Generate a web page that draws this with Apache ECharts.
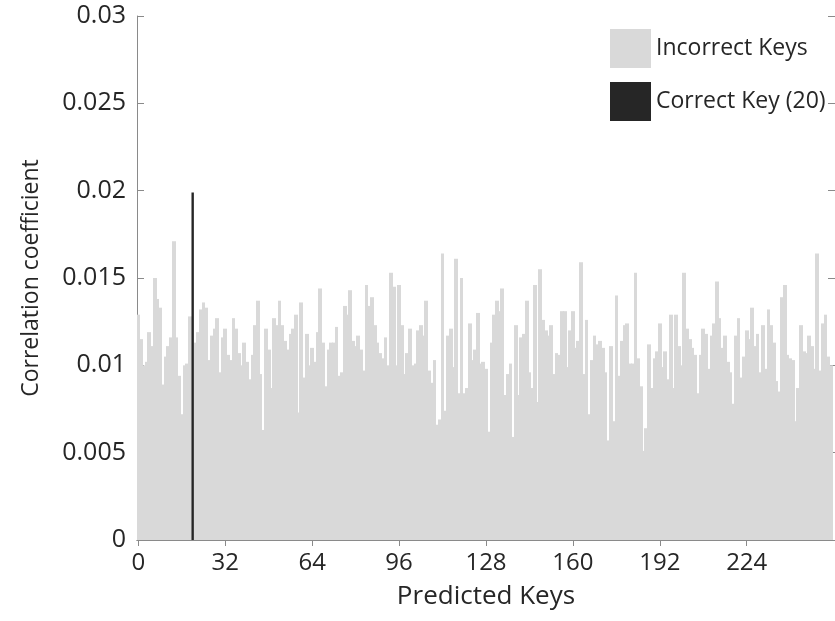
<!DOCTYPE html>
<html>
<head>
<meta charset="utf-8">
<title>Correlation coefficient per predicted key</title>
<script src="https://cdn.jsdelivr.net/npm/echarts@6/dist/echarts.min.js"></script>
<style>
  html, body { margin: 0; padding: 0; background: #ffffff; }
  #chart { width: 835px; height: 621px; }
</style>
</head>
<body>
<div id="chart"></div>
<script>
// Key hypotheses 0..255 plus one empty slot so the axis runs to 256.5
const keyLabels = [];
for (let k = 0; k <= 256; k++) keyLabels.push(String(k));

// Correlation coefficient of each wrong key guess (index = key value);
// key 20 is the correct one and is drawn by its own series.
const incorrectKeyCorr = [
  0.0129, 0.0115, 0.0100, 0.0102, 0.0119, 0.0111, 0.0150, 0.0138, 0.0133, 0.0089,
  0.0105, 0.0111, 0.0116, 0.0171, 0.0116, 0.0094, 0.0072, 0.0100, 0.0101, 0.0128,
  null,   0.0113, 0.0119, 0.0132, 0.0136, 0.0133, 0.0103, 0.0117, 0.0121, 0.0127,
  0.0096, 0.0116, 0.0121, 0.0106, 0.0103, 0.0127, 0.0121, 0.0107, 0.0100, 0.0113,
  0.0102, 0.0092, 0.0106, 0.0123, 0.0137, 0.0095, 0.0063, 0.0121, 0.0109, 0.0087,
  0.0127, 0.0123, 0.0137, 0.0123, 0.0114, 0.0109, 0.0118, 0.0121, 0.0129, 0.0073,
  0.0136, 0.0093, 0.0118, 0.0100, 0.0110, 0.0102, 0.0119, 0.0144, 0.0113, 0.0088,
  0.0109, 0.0113, 0.0113, 0.0122, 0.0094, 0.0096, 0.0134, 0.0129, 0.0143, 0.0114,
  0.0111, 0.0117, 0.0109, 0.0097, 0.0146, 0.0134, 0.0139, 0.0123, 0.0113, 0.0107,
  0.0104, 0.0116, 0.0100, 0.0153, 0.0145, 0.0100, 0.0146, 0.0123, 0.0095, 0.0107,
  0.0121, 0.0100, 0.0101, 0.0120, 0.0123, 0.0117, 0.0137, 0.0097, 0.0090, 0.0103,
  0.0066, 0.0069, 0.0164, 0.0074, 0.0117, 0.0121, 0.0099, 0.0161, 0.0084, 0.0150,
  0.0084, 0.0087, 0.0124, 0.0103, 0.0109, 0.0130, 0.0101, 0.0102, 0.0098, 0.0062,
  0.0113, 0.0129, 0.0137, 0.0131, 0.0144, 0.0083, 0.0095, 0.0101, 0.0059, 0.0123,
  0.0083, 0.0116, 0.0118, 0.0137, 0.0096, 0.0087, 0.0146, 0.0079, 0.0155, 0.0126,
  0.0120, 0.0117, 0.0123, 0.0095, 0.0107, 0.0106, 0.0131, 0.0131, 0.0099, 0.0120,
  0.0131, 0.0110, 0.0114, 0.0159, 0.0095, 0.0126, 0.0072, 0.0103, 0.0117, 0.0112,
  0.0114, 0.0110, 0.0096, 0.0057, 0.0111, 0.0068, 0.0140, 0.0094, 0.0114, 0.0123,
  0.0124, 0.0101, 0.0101, 0.0153, 0.0104, 0.0088, 0.0051, 0.0064, 0.0112, 0.0087,
  0.0104, 0.0108, 0.0124, 0.0099, 0.0108, 0.0092, 0.0129, 0.0087, 0.0129, 0.0111,
  0.0100, 0.0153, 0.0121, 0.0115, 0.0110, 0.0106, 0.0084, 0.0106, 0.0121, 0.0118,
  0.0098, 0.0117, 0.0124, 0.0148, 0.0127, 0.0110, 0.0117, 0.0102, 0.0096, 0.0078,
  0.0117, 0.0127, 0.0093, 0.0105, 0.0120, 0.0115, 0.0133, 0.0111, 0.0118, 0.0096,
  0.0123, 0.0098, 0.0132, 0.0123, 0.0113, 0.0091, 0.0085, 0.0139, 0.0146, 0.0106,
  0.0104, 0.0103, 0.0068, 0.0087, 0.0123, 0.0108, 0.0107, 0.0117, 0.0111, 0.0098,
  0.0164, 0.0097, 0.0124, 0.0129, 0.0105, 0.0100
];

// The correct key and its correlation peak
const correctKey = 20;
const correctKeyCorr = 0.0199;

// Labelled key ticks
const xTickKeys = [0, 32, 64, 96, 128, 160, 192, 224];

const seriesNames = ['Incorrect Keys', 'Correct Key (20)'];

const AXIS_COLOR = '#8a8a8a';
const TEXT_COLOR = '#262626';
const BAR_GREY = '#d9d9d9';
const KEY_BLACK = '#262626';
const FONT = '"Open Sans", "Noto Sans", sans-serif';

const incorrectData = incorrectKeyCorr.map((v, i) => [i, v]);
const correctData = keyLabels.map((_, i) => (i === correctKey ? correctKeyCorr : null));
const tickAt = (idx) => xTickKeys.indexOf(idx) !== -1;

// Touching bars: each one spans its full key band, edges snapped to whole
// pixels so neighbouring bars meet without hairline gaps.
function renderTouchingBar(params, api) {
  const v = api.value(1);
  if (v == null || isNaN(v)) return null;
  const k = api.value(0);
  const top = api.coord([k, v]);
  const base = api.coord([k, 0]);
  const band = api.size([1, 0])[0];
  const x0 = Math.floor(top[0] - band / 2);
  const x1 = Math.ceil(top[0] + band / 2);
  return {
    type: 'rect',
    shape: { x: x0, y: top[1], width: x1 - x0, height: base[1] - top[1] },
    style: { fill: BAR_GREY }
  };
}

const chart = echarts.init(document.getElementById('chart'), null, { renderer: 'canvas' });

chart.setOption({
  animation: false,
  backgroundColor: '#ffffff',
  textStyle: { fontFamily: FONT, color: TEXT_COLOR },
  grid: { left: 137, top: 16, width: 699, height: 524, containLabel: false },
  legend: {
    data: seriesNames,
    orient: 'vertical',
    left: 610,
    top: 29,
    padding: 0,
    itemWidth: 41,
    itemHeight: 39,
    itemGap: 14,
    icon: 'rect',
    selectedMode: false,
    textStyle: { fontFamily: FONT, fontSize: 23, color: TEXT_COLOR }
  },
  xAxis: [
    {
      type: 'category',
      data: keyLabels,
      position: 'bottom',
      boundaryGap: true,
      name: 'Predicted Keys',
      nameLocation: 'middle',
      nameGap: 44,
      nameTextStyle: { fontFamily: FONT, fontSize: 26, color: TEXT_COLOR },
      axisLine: { show: true, lineStyle: { color: AXIS_COLOR, width: 1 } },
      axisTick: { show: true, inside: true, length: 6, alignWithLabel: true, interval: tickAt,
                  lineStyle: { color: AXIS_COLOR } },
      axisLabel: { interval: tickAt, fontFamily: FONT, fontSize: 24, color: TEXT_COLOR, margin: 11 },
      splitLine: { show: false }
    },
    {
      type: 'category',
      data: keyLabels,
      position: 'top',
      boundaryGap: true,
      axisLine: { show: true, lineStyle: { color: AXIS_COLOR, width: 1 } },
      axisTick: { show: true, inside: true, length: 6, alignWithLabel: true, interval: tickAt,
                  lineStyle: { color: AXIS_COLOR } },
      axisLabel: { show: false },
      splitLine: { show: false }
    }
  ],
  yAxis: [
    {
      type: 'value',
      min: 0,
      max: 0.03,
      interval: 0.005,
      position: 'left',
      name: 'Correlation coefficient',
      nameLocation: 'middle',
      nameRotate: 90,
      nameGap: 94,
      nameTextStyle: { fontFamily: FONT, fontSize: 23, color: TEXT_COLOR },
      axisLine: { show: true, lineStyle: { color: AXIS_COLOR, width: 1 } },
      axisTick: { show: true, inside: true, length: 7, lineStyle: { color: AXIS_COLOR } },
      axisLabel: { fontFamily: FONT, fontSize: 25, color: TEXT_COLOR, margin: 11 },
      splitLine: { show: false }
    },
    {
      type: 'value',
      min: 0,
      max: 0.03,
      interval: 0.005,
      position: 'right',
      axisLine: { show: true, lineStyle: { color: AXIS_COLOR, width: 1 } },
      axisTick: { show: true, inside: true, length: 7, lineStyle: { color: AXIS_COLOR } },
      axisLabel: { show: false },
      splitLine: { show: false }
    }
  ],
  series: [
    {
      name: seriesNames[0],
      type: 'custom',
      xAxisIndex: 0,
      yAxisIndex: 0,
      data: incorrectData,
      encode: { x: 0, y: 1 },
      renderItem: renderTouchingBar,
      clip: true,
      itemStyle: { color: BAR_GREY },
      emphasis: { disabled: true }
    },
    {
      name: seriesNames[1],
      type: 'bar',
      xAxisIndex: 1,
      yAxisIndex: 0,
      data: correctData,
      barWidth: 2.4,
      itemStyle: { color: KEY_BLACK },
      emphasis: { disabled: true }
    }
  ]
});
</script>
</body>
</html>
